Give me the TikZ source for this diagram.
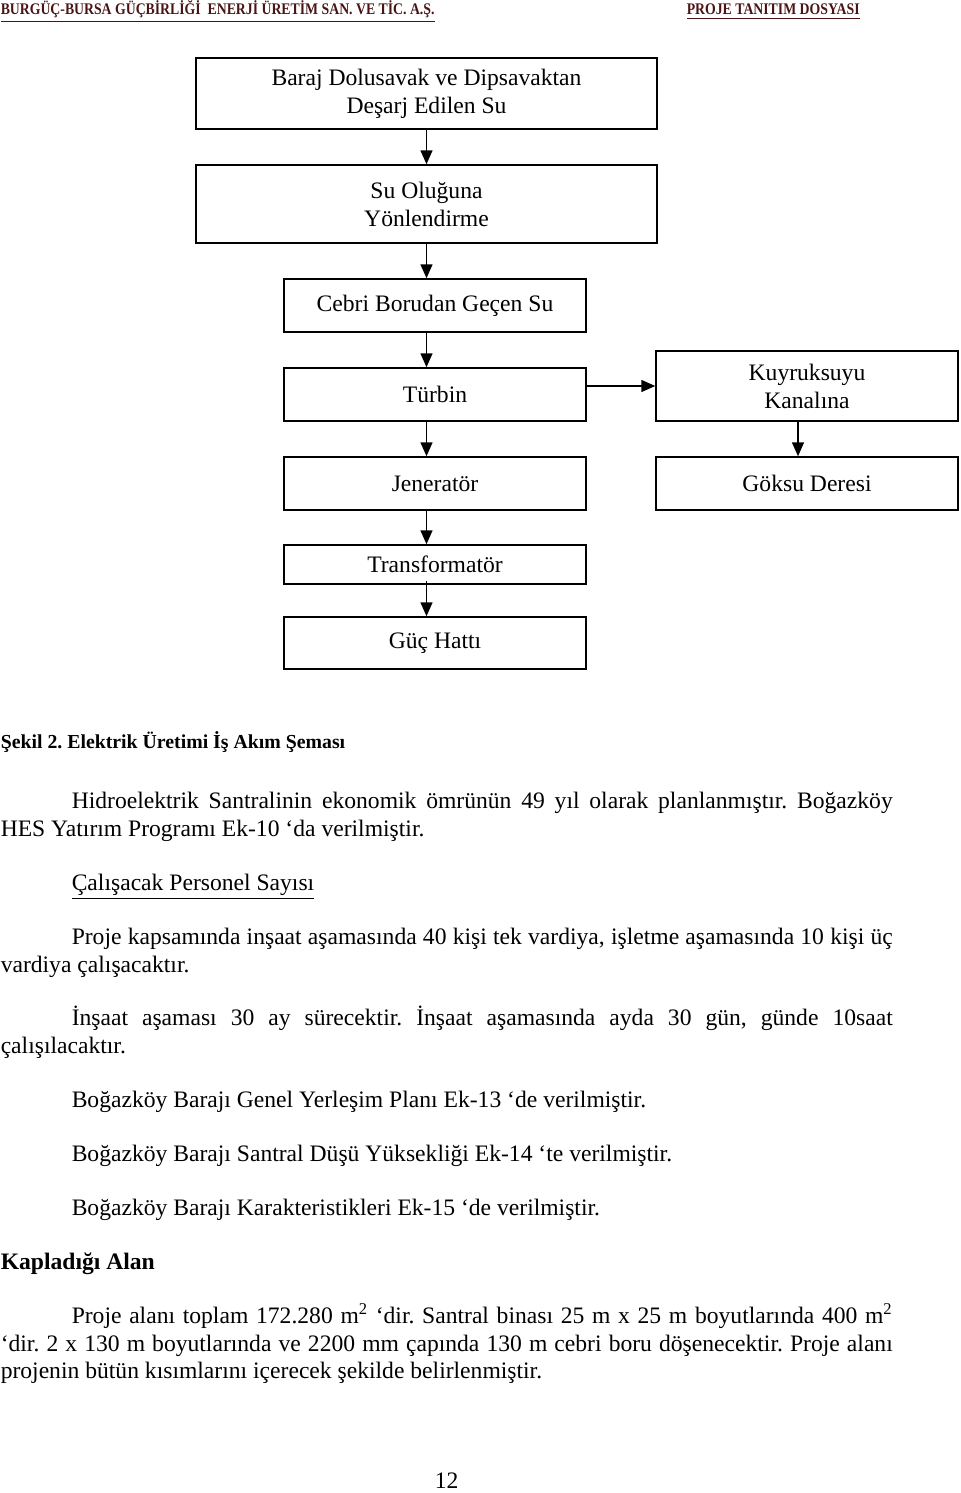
\documentclass[tikz,border=0pt]{standalone}
\usepackage{fontspec}
\setmainfont{Liberation Serif}
\newfontfamily\headfont[FakeStretch=0.85]{Liberation Serif}
\usetikzlibrary{arrows.meta}
\definecolor{headred}{HTML}{4A1414}
\frenchspacing

\begin{document}
\begin{tikzpicture}[x=0.5pt, y=-0.5pt, line width=0.75pt]
        \tikzstyle{every node}=[inner sep=0pt, font=\fontsize{11.8}{14}\selectfont]
        \tikzstyle{wide box}=[draw, minimum width=230.5pt, align=center]
        \tikzstyle{flow box}=[draw, minimum width=151pt, align=center]
        \tikzstyle{flow}=[-{Triangle[length=7pt, width=6pt]}]
        \tikzstyle{body}=[anchor=base west]
        \tikzstyle{head}=[anchor=base west, text=headred, font=\headfont\bfseries\fontsize{8.1}{9}\selectfont]

        \useasboundingbox (0,0) rectangle (960,1493);

% page header
        \node[head] (firma) at (0,15) {\underline{BURGÜÇ-BURSA GÜÇBİRLİĞİ\ \ ENERJİ ÜRETİM SAN. VE TİC. A.Ş.}};
        \node[head] (dosya) at (686,15) {\underline{PROJE TANITIM DOSYASI}};

% Elektrik uretimi akim semasi
        \node[wide box, minimum height=35.5pt] (baraj) at (426.5,93.5) {Baraj Dolusavak ve Dipsavaktan\\Deşarj Edilen Su};
        \node[wide box, minimum height=39pt] (oluk) at (426.5,204) {Su Oluğuna\\Yönlendirme};
        \node[flow box, minimum height=26.5pt] (cebri) at (435,305.5) {Cebri Borudan Geçen Su};
        \node[flow box, minimum height=26.5pt] (turbin) at (435,394.5) {Türbin};
        \node[flow box, minimum height=26.5pt] (jenerator) at (435,483.5) {Jeneratör};
        \node[flow box, minimum height=19.5pt] (trafo) at (435,564.5) {Transformatör};
        \node[flow box, minimum height=26pt] (hat) at (435,643) {Güç Hattı};
        \node[flow box, minimum height=35pt] (kuyruk) at (807,386) {Kuyruksuyu\\Kanalına};
        \node[flow box, minimum height=26.5pt] (goksu) at (807,483.5) {Göksu Deresi};

        \draw[flow] (baraj) -- (oluk);
        \draw[flow] (oluk) -- (oluk |- cebri.north);
        \draw[flow] (cebri.south -| oluk) -- (turbin.north -| oluk);
        \draw[flow] (turbin.south -| oluk) -- (jenerator.north -| oluk);
        \draw[flow] (jenerator.south -| oluk) -- (trafo.north -| oluk);
        \draw[flow] ([yshift=2pt]trafo.south -| oluk) -- (hat.north -| oluk);
        \draw[flow] (turbin.east |- kuyruk) -- (kuyruk.west);
        \draw[flow] ([xshift=-4.5pt]kuyruk.south) -- ([xshift=-4.5pt]goksu.north);

% text of the page
        \node[body, font=\bfseries\fontsize{9.9}{12}\selectfont] (sekil) at (0,748) {Şekil 2. Elektrik Üretimi İş Akım Şeması};
        \node[body] (p1a) at (71,808) {\makebox[410.5pt][s]{Hidroelektrik Santralinin ekonomik ömrünün 49 yıl olarak planlanmıştır. Boğazköy}};
        \node[body] (p1b) at (0,836) {HES Yatırım Programı Ek-10 ‘da verilmiştir.};
        \node[body] (personel) at (71,890) {\underline{Çalışacak Personel Sayısı}};
        \node[body] (p2a) at (71,944) {\makebox[410.5pt][s]{Proje kapsamında inşaat aşamasında 40 kişi tek vardiya, işletme aşamasında 10 kişi üç}};
        \node[body] (p2b) at (0,972) {vardiya çalışacaktır.};
        \node[body] (p3a) at (71,1025) {\makebox[410.5pt][s]{İnşaat aşaması 30 ay sürecektir. İnşaat aşamasında ayda 30 gün, günde 10saat}};
        \node[body] (p3b) at (0,1053) {çalışılacaktır.};
        \node[body] (ek13) at (71,1107) {Boğazköy Barajı Genel Yerleşim Planı Ek-13 ‘de verilmiştir.};
        \node[body] (ek14) at (71,1161) {Boğazköy Barajı Santral Düşü Yüksekliği Ek-14 ‘te verilmiştir.};
        \node[body] (ek15) at (71,1215) {Boğazköy Barajı Karakteristikleri Ek-15 ‘de verilmiştir.};
        \node[body, font=\bfseries\fontsize{11.8}{14}\selectfont] (alan) at (0,1269) {Kapladığı Alan};
        \node[body] (p4a) at (71,1323) {\makebox[410.5pt][s]{Proje alanı toplam 172.280 m\textsuperscript{2} ‘dir. Santral binası 25 m x 25 m boyutlarında 400 m\textsuperscript{2}}};
        \node[body] (p4b) at (0,1351) {\makebox[446pt][s]{‘dir. 2 x 130 m boyutlarında ve 2200 mm çapında 130 m cebri boru döşenecektir. Proje alanı}};
        \node[body] (p4c) at (0,1378) {projenin bütün kısımlarını içerecek şekilde belirlenmiştir.};
        \node[body] (sayfa) at (434,1488) {12};

    \end{tikzpicture}
\end{document}
